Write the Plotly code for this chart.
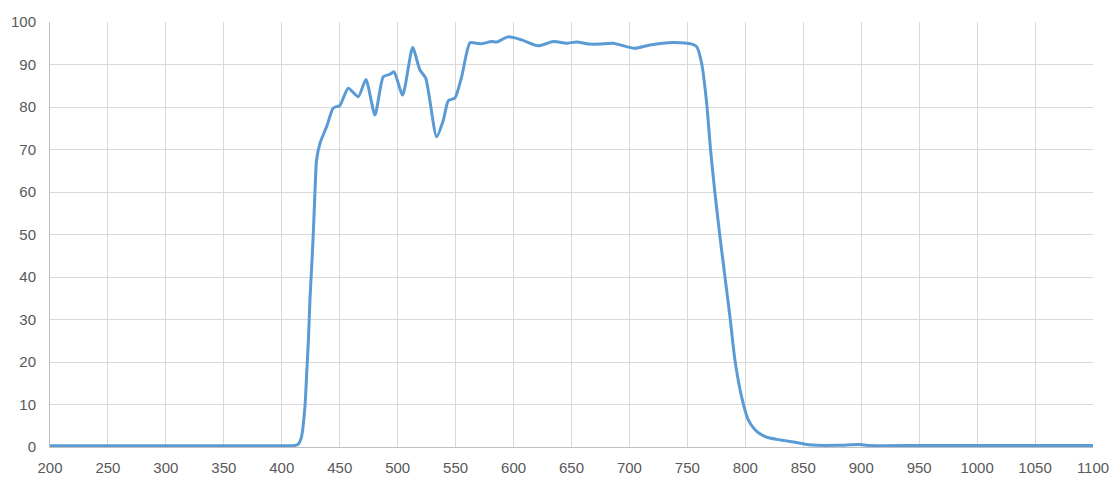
import plotly.graph_objects as go

# Transmission curve
wavelength = [200, 250, 300, 350, 400, 410, 414, 417, 420, 421.5, 423, 424.3, 425.8,
              427.2, 428.6, 430, 433, 438.7, 444, 446, 450, 457.4, 466, 472.6, 480.4,
              487.6, 493.4, 496.8, 504.3, 512.9, 519.2, 524.2, 533.6, 539.4, 543.7,
              549.4, 555.2, 562.4, 568, 572.5, 581, 585.4, 595.4, 607, 621.3, 634.3,
              645.8, 654.4, 665.9, 674.5, 686, 704.7, 717.7, 737.8, 750, 754, 758,
              762.3, 766.6, 770, 773.8, 778.1, 782.4, 786.7, 791, 796.8, 802.5, 808,
              812.6, 818.4, 827, 834, 843, 852.9, 862, 880, 898.9, 906, 950,
              1000, 1050, 1100]
transmission = [0.3, 0.3, 0.3, 0.3, 0.3, 0.3, 0.6, 2.4, 9.5, 17.3, 25.2, 34.6, 42.4,
                50.3, 59.7, 67.5, 71.5, 75.4, 79.6, 80.0, 80.3, 84.4, 82.4, 86.5, 78.1,
                87.1, 87.7, 88.3, 82.8, 94.0, 88.7, 86.8, 73.0, 76.9, 81.5,
                82.1, 87.1, 95.1, 95.0, 94.9, 95.4, 95.3, 96.5, 95.8, 94.4, 95.4,
                95.0, 95.3, 94.8, 94.8, 95.0, 93.8, 94.6, 95.2, 95.0, 94.8, 94.2,
                90.3, 81.0, 69.9, 59.7, 49.5, 40.1, 30.7, 20.5, 11.8, 6.4, 4.2,
                3.1, 2.3, 1.8, 1.5, 1.1, 0.6, 0.4, 0.4, 0.6, 0.35, 0.35,
                0.35, 0.35, 0.35]

x_ticks = list(range(200, 1101, 50))
y_ticks = list(range(0, 101, 10))

fig = go.Figure()
fig.add_trace(go.Scatter(
    x=wavelength, y=transmission,
    mode="lines",
    line=dict(color="#5B9BD5", width=3, shape="spline", smoothing=0.6),
    showlegend=False,
))

# page body adds an 8px offset, so shrink the figure to line the axes up
fig.update_layout(
    width=1112, height=481,
    margin=dict(l=42, r=27, t=14, b=42),
    plot_bgcolor="white",
    paper_bgcolor="white",
    font=dict(family="Liberation Sans", size=15, color="#595959"),
)

fig.update_xaxes(
    range=[200, 1100], tickvals=x_ticks,
    showgrid=True, gridcolor="#D9D9D9", gridwidth=1,
    showline=True, linecolor="#BFBFBF", linewidth=1,
    zeroline=False, ticks="", ticklabelstandoff=7, automargin=False,
)
fig.update_yaxes(
    range=[0, 100], tickvals=y_ticks,
    showgrid=True, gridcolor="#D9D9D9", gridwidth=1,
    showline=True, linecolor="#BFBFBF", linewidth=1,
    zeroline=False, ticks="", ticklabelstandoff=10, automargin=False,
)

fig.write_html("out.html")
